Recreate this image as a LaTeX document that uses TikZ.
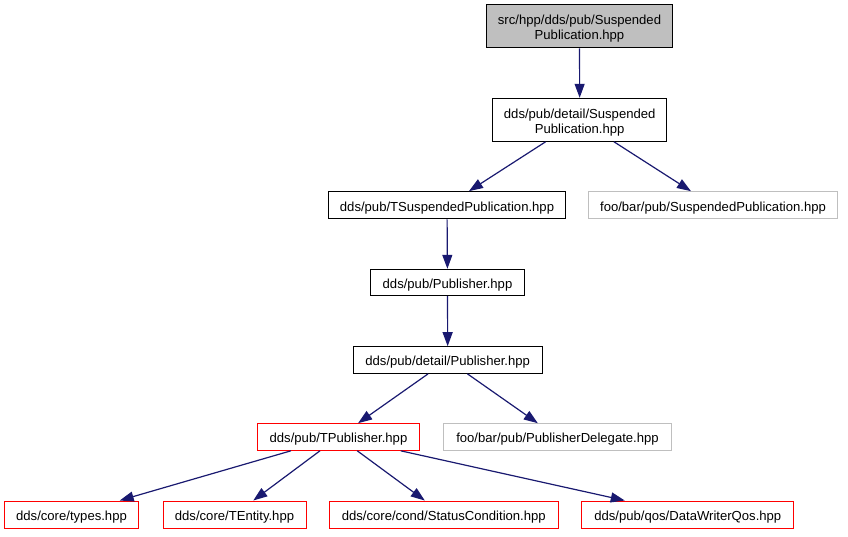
\documentclass[tikz,border=0pt]{standalone}
\usepackage{fontspec}
\setmainfont{Liberation Sans}
\usetikzlibrary{arrows.meta}
\definecolor{edgeblue}{HTML}{191970}
\definecolor{boxgray}{HTML}{BFBFBF}

\begin{document}
\begin{tikzpicture}[x=1pt,y=-1pt,
		box/.style={draw,rectangle,line width=1pt,inner sep=0pt,text height=19pt,text depth=7.4pt,font=\fontsize{13.1}{15}\selectfont},
		twoline/.style={box,align=center,text height=34.8pt,text depth=8.2pt},
		extbox/.style={box,draw=boxgray},
		redbox/.style={box,draw=red},
		dep/.style={edgeblue,line width=1.2pt,-{Triangle[length=14pt,width=10pt]}}]
		\useasboundingbox (0,0) rectangle (848,536);

		\node[twoline,fill=boxgray,minimum height=42.7pt,minimum width=185.6pt] at (579.5,26.3) (top) { src/hpp/dds/pub/Suspended\\Publication.hpp };
		\node[twoline,minimum height=43pt,minimum width=174pt] at (579.7,119.8) (dsusp) { dds/pub/detail/Suspended\\Publication.hpp };
		\node[box,minimum height=27.3pt,minimum width=236.7pt] at (447,205.3) (tsusp) { dds/pub/TSuspendedPublication.hpp };
		\node[extbox,minimum height=27.3pt,minimum width=248.6pt] at (713,205.3) (extsusp) { foo/bar/pub/SuspendedPublication.hpp };
		\node[box,minimum height=26.4pt,minimum width=154pt] at (447.5,282.5) (pub) { dds/pub/Publisher.hpp };
		\node[box,minimum height=26.6pt,minimum width=188.6pt] at (447.7,360) (dpub) { dds/pub/detail/Publisher.hpp };
		\node[redbox,minimum height=26.6pt,minimum width=161.6pt] at (338.5,437) (tpub) { dds/pub/TPublisher.hpp };
		\node[extbox,minimum height=26.6pt,minimum width=227.6pt] at (557.5,437) (extdel) { foo/bar/pub/PublisherDelegate.hpp };
		\node[redbox,minimum height=27pt,minimum width=134.4pt] at (71.5,514.5) (types) { dds/core/types.hpp };
		\node[redbox,minimum height=27pt,minimum width=143pt] at (234.5,514.5) (tentity) { dds/core/TEntity.hpp };
		\node[redbox,minimum height=27pt,minimum width=229pt] at (443.8,514.5) (status) { dds/core/cond/StatusCondition.hpp };
		\node[redbox,minimum height=27pt,minimum width=212.3pt] at (687.8,514.5) (qos) { dds/pub/qos/DataWriterQos.hpp };

		\draw[dep] (top) -- (dsusp);
		\draw[dep] (dsusp) -- (tsusp);
		\draw[dep] (dsusp) -- (extsusp);
		\draw[dep] (tsusp) -- (pub);
		\draw[dep] (pub) -- (dpub);
		\draw[dep] (dpub) -- (tpub);
		\draw[dep] (dpub) -- (extdel);

		\draw[dep] (tpub) -- (types);
		\draw[dep] (tpub) -- (tentity);
		\draw[dep] (tpub) -- (status);
		\draw[dep] (tpub) -- (qos);
	\end{tikzpicture}
\end{document}
